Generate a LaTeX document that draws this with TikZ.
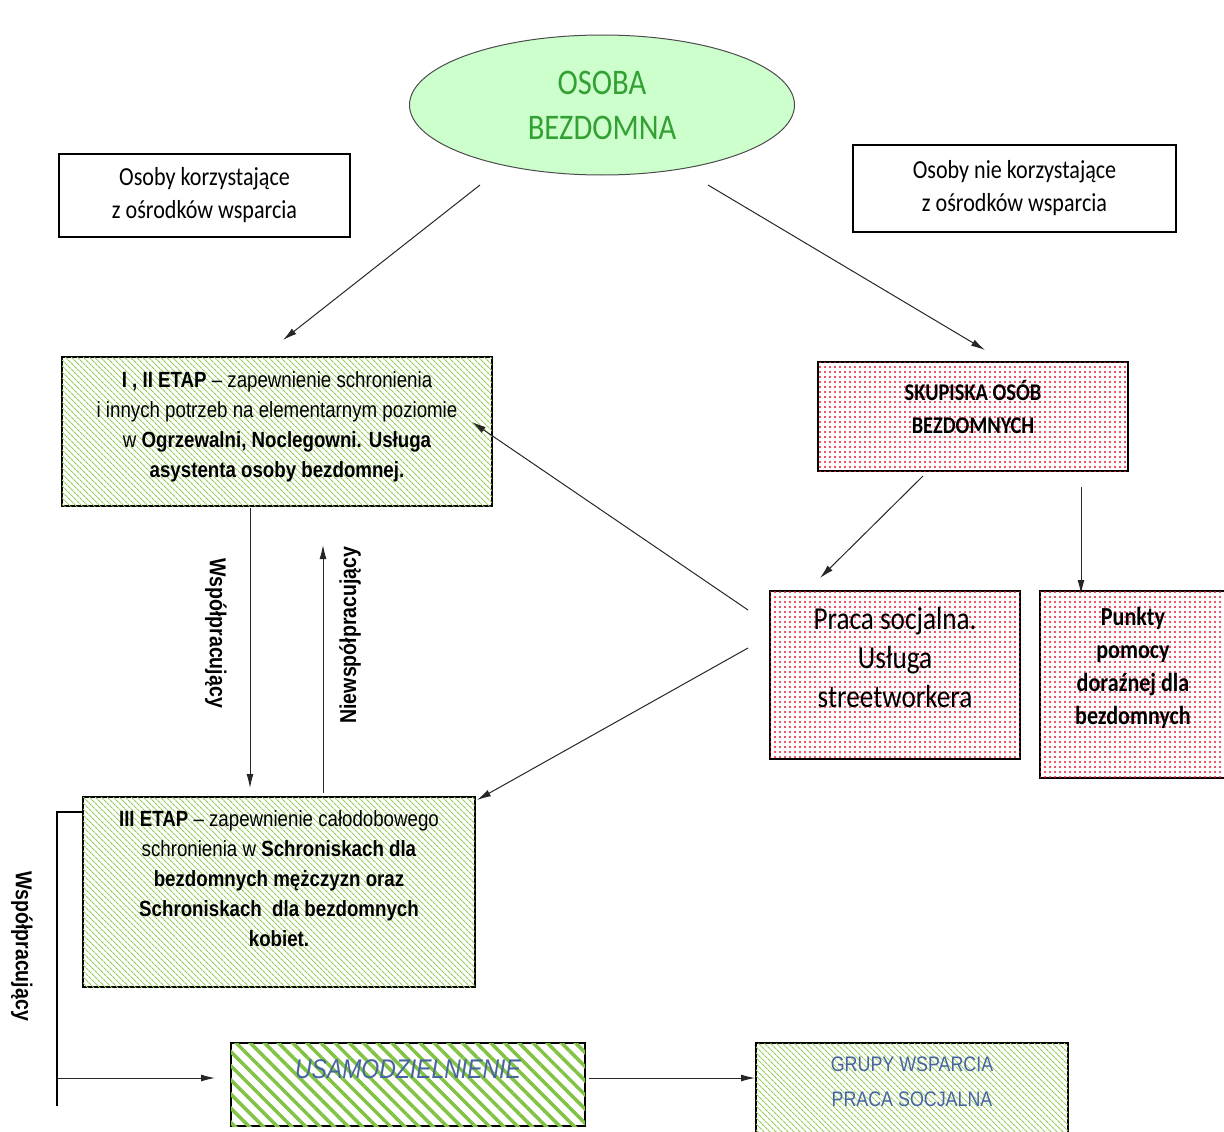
\documentclass[tikz,border=0pt]{standalone}
\usepackage{fontspec}
\setmainfont{Liberation Sans}
\newfontfamily\calibri{Carlito}[FakeStretch=0.85]
\newfontfamily\arial{Liberation Sans}[FakeStretch=0.85]
\usetikzlibrary{shapes.geometric,patterns.meta,arrows.meta}
\definecolor{osobafill}{RGB}{204,255,204}
\definecolor{osobatext}{RGB}{50,160,50}
\definecolor{stripe}{RGB}{150,205,90}
\definecolor{stripedark}{RGB}{130,195,70}
\definecolor{dotred}{RGB}{235,20,50}
\definecolor{bluetext}{RGB}{70,100,160}
\begin{document}
\begin{tikzpicture}[x=1pt,y=-1pt,
    box/.style={draw, line width=1.2pt, align=center, inner sep=0pt},
    greenbox/.style={box, fill=white,
      postaction={pattern={Lines[angle=-45,distance=4pt,line width=1.1pt]}, pattern color=stripe}},
    stripebox/.style={box, fill=white,
      postaction={pattern={Lines[angle=-45,distance=10pt,line width=3.5pt]}, pattern color=stripedark}},
    redbox/.style={box, fill=white,
      postaction={pattern={Dots[distance=5pt,radius=1.1pt]}, pattern color=dotred}},
    arr/.style={-{Latex[length=14pt,width=7pt]}, line width=1pt, black!85},
    side/.style={font=\arial\bfseries\fontsize{23}{28}\selectfont}]
  \useasboundingbox (0,0) rectangle (1224,1132);
  % top
  \node[ellipse, draw=black!70, line width=1pt, fill=osobafill, minimum width=385pt,
    minimum height=140pt, align=center, text=osobatext,
    font=\calibri\fontsize{36}{45}\selectfont] (osoba) at (602,105) {OSOBA\\BEZDOMNA};
  \node[box, minimum width=291pt, minimum height=83pt,
    font=\calibri\fontsize{26}{33}\selectfont] (kor) at (204.5,195.5)
    {Osoby korzystające\\z ośrodków wsparcia};
  \node[box, minimum width=323pt, minimum height=87pt,
    font=\calibri\fontsize{26}{33}\selectfont] (niekor) at (1014.5,188.5)
    {Osoby nie korzystające\\z ośrodków wsparcia};
  % etapy
  \node[greenbox, minimum width=430pt, minimum height=149pt, text depth=14pt,
    font=\arial\fontsize{22}{30}\selectfont] (etap12) at (277,431.5)
    {\textbf{I , II ETAP} – zapewnienie schronienia\\
     i innych potrzeb na elementarnym poziomie\\
     w \textbf{Ogrzewalni, Noclegowni. Usługa}\\
     \textbf{asystenta osoby bezdomnej.}};
  \node[greenbox, minimum width=392pt, minimum height=190pt, text depth=27pt,
    font=\arial\fontsize{22}{30}\selectfont] (etap3) at (279,892)
    {\textbf{III ETAP} – zapewnienie całodobowego\\
     schronienia w \textbf{Schroniskach dla}\\
     \textbf{bezdomnych mężczyzn oraz}\\
     \textbf{Schroniskach\ \ dla bezdomnych}\\
     \textbf{kobiet.}};
  % skupiska
  \node[redbox, minimum width=310pt, minimum height=109pt, text depth=19pt,
    font=\calibri\bfseries\fontsize{24}{33}\selectfont] (skup) at (973,416.5)
    {SKUPISKA OSÓB\\BEZDOMNYCH};
  \node[redbox, minimum width=250pt, minimum height=168pt, text depth=35pt,
    font=\calibri\fontsize{32}{39}\selectfont] (praca) at (895,675)
    {Praca socjalna.\\Usługa\\streetworkera};
  \node[redbox, minimum width=186pt, minimum height=187pt, text depth=38pt,
    font=\calibri\bfseries\fontsize{26}{33}\selectfont] (punkty) at (1133,684.5)
    {Punkty\\pomocy\\doraźnej dla\\bezdomnych};
  % dol
  \node[stripebox, minimum width=354pt, minimum height=83pt, text depth=30pt,
    font=\arial\itshape\fontsize{27}{30}\selectfont, text=bluetext] (usam) at (408,1084.5)
    {USAMODZIELNIENIE};
  \node[greenbox, minimum width=312pt, minimum height=94pt, text depth=16pt,
    font=\arial\fontsize{21}{35}\selectfont, text=bluetext] (grupy) at (912,1090)
    {GRUPY WSPARCIA\\PRACA SOCJALNA};
  % podpisy
  \node[side, rotate=-90] (wsp) at (216,633) {Współpracujący};
  \node[side, rotate=90] (niewsp) at (350,635) {Niewspółpracujący};
  \node[side, rotate=-90] (wsp-lewy) at (22,946) {Współpracujący};
  % strzalki
  \coordinate (osoba-l) at (480,185);
  \coordinate (osoba-p) at (708,185);
  \coordinate (etap12-n) at (283,340);
  \coordinate (skup-n) at (985,350);
  \coordinate (skup-l) at (923,476);
  \coordinate (skup-p) at (1081,487);
  \coordinate (praca-n) at (820,578);
  \coordinate (punkty-n) at (1081,594);
  \coordinate (praca-g) at (748,610);
  \coordinate (praca-d) at (748,648);
  \coordinate (etap12-e) at (472,422);
  \coordinate (etap3-e) at (477,800);
  \coordinate (wsp-g) at (250,508);
  \coordinate (wsp-d) at (250,788);
  \coordinate (niewsp-d) at (323,793);
  \coordinate (niewsp-g) at (323,545);
  \coordinate (lewy-g) at (57,812);
  \coordinate (lewy-d) at (57,1106);
  \coordinate (lewy-s) at (57,1078);
  \coordinate (usam-w) at (215,1078);
  \coordinate (usam-e) at (589,1078);
  \coordinate (grupy-w) at (755,1078);
  \begin{scope}[arr]
    \draw (osoba-l) to (etap12-n);
    \draw (osoba-p) to (skup-n);
    \draw (skup-l) to (praca-n);
    \draw (skup-p) to (punkty-n);
    \draw (praca-g) to (etap12-e);
    \draw (praca-d) to (etap3-e);
    \draw (wsp-g) to (wsp-d);
    \draw (niewsp-d) to (niewsp-g);
    \draw (lewy-s) to (usam-w);
    \draw (usam-e) to (grupy-w);
  \end{scope}
  \draw[line width=1.2pt] (etap3.west |- lewy-g) -- (lewy-g) -- (lewy-d);
\end{tikzpicture}
\end{document}
